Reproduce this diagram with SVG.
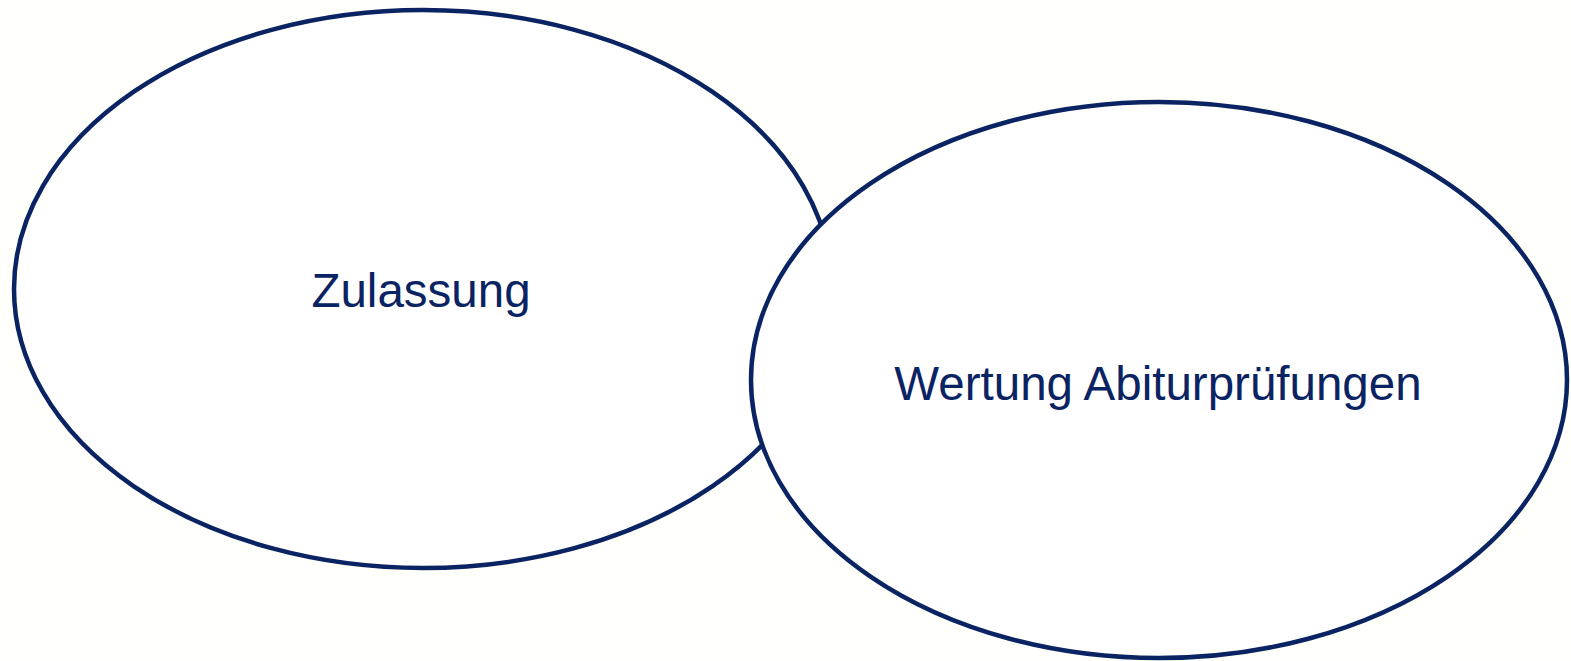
<svg xmlns="http://www.w3.org/2000/svg" width="1571" height="661" viewBox="0 0 1571 661">
<style>
.node ellipse{fill:#ffffff;stroke:#0a2362;stroke-width:4.5}
.node text{font-family:"Liberation Sans",Arial,sans-serif;font-size:47.5px;fill:#0a2362;text-anchor:middle}
</style>
<rect width="1571" height="661" fill="#fffffc"/>
<g id="connectors"></g>
<g id="node-zulassung" class="node">
<ellipse cx="423" cy="289" rx="409" ry="279"/>
<text x="421" y="307">Zulassung</text>
</g>
<g id="node-wertung" class="node">
<ellipse cx="1159" cy="380" rx="408" ry="278"/>
<text x="1158" y="400">Wertung Abiturprüfungen</text>
</g>
</svg>
